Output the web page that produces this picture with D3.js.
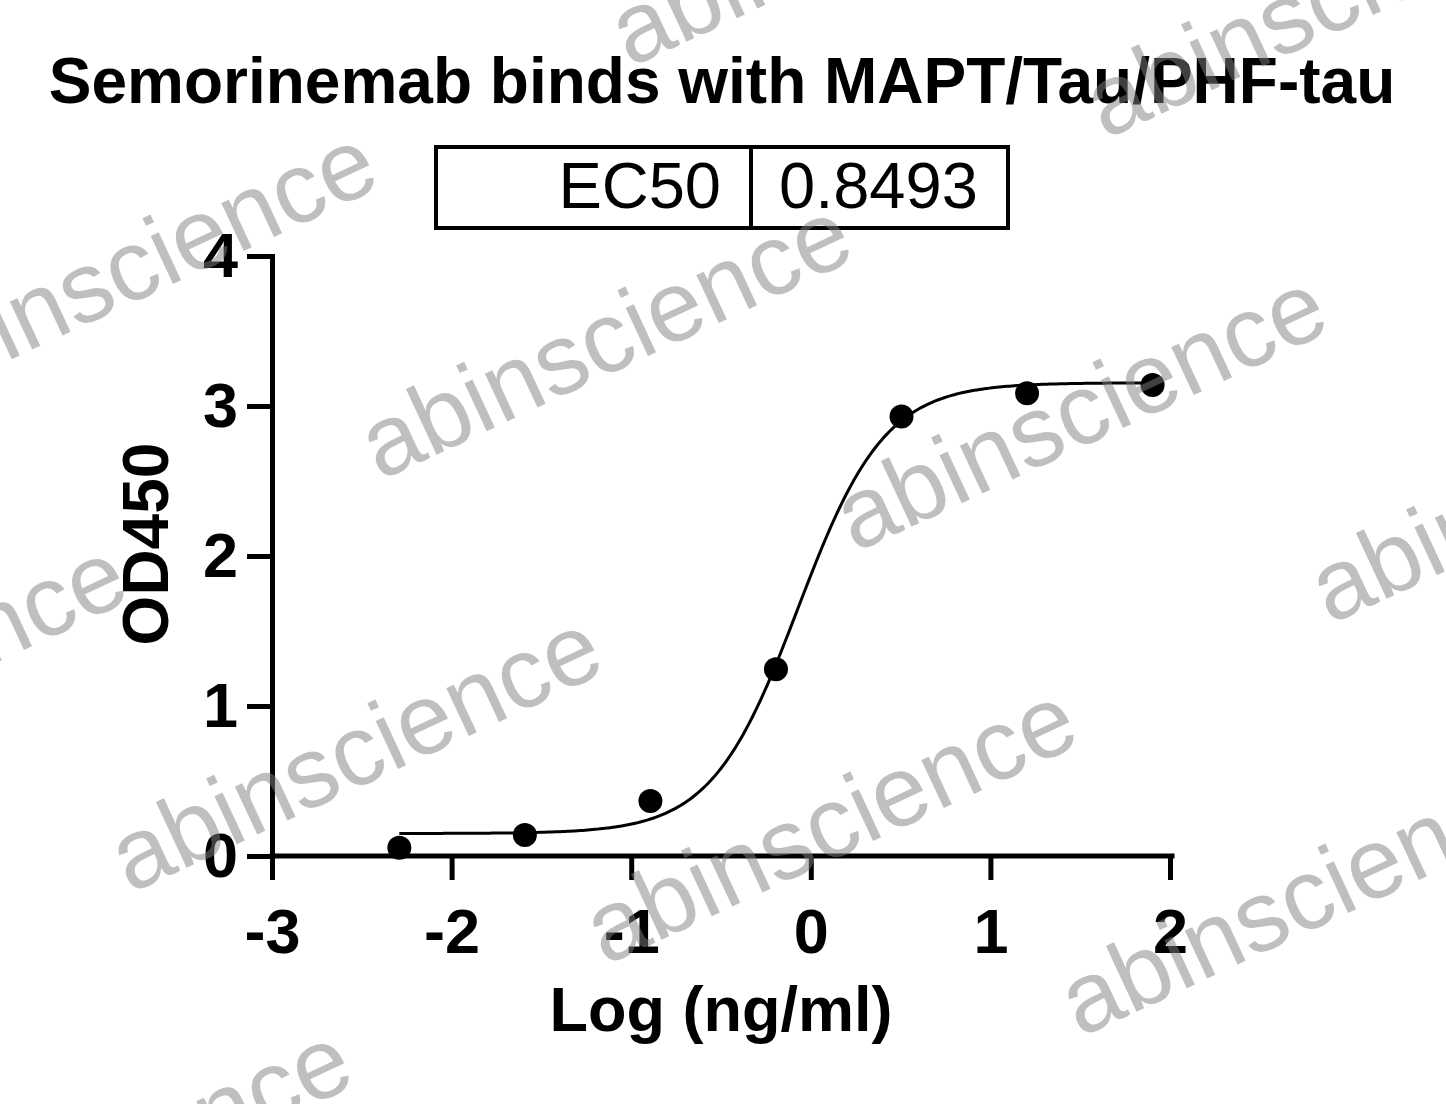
<!DOCTYPE html>
<html>
<head>
<meta charset="utf-8">
<script src="https://cdn.jsdelivr.net/npm/d3@7"></script>
<style>
  html, body { margin: 0; padding: 0; background: #ffffff; }
  svg { display: block; }
  text { font-family: "Liberation Sans", Arial, sans-serif; }
</style>
</head>
<body>
<svg id="chart" width="1446" height="1104"></svg>
<script>
// ---- data ----
const logConc = [-2.291, -1.592, -0.893, -0.194, 0.505, 1.204, 1.903];
const od450   = [0.055, 0.14, 0.367, 1.245, 2.93, 3.085, 3.14];
const xTicks = [-3, -2, -1, 0, 1, 2];
const yTicks = [0, 1, 2, 3, 4];
const xTickLabels = ["-3", "-2", "-1", "0", "1", "2"];
const yTickLabels = ["0", "1", "2", "3", "4"];
const titleText = "Semorinemab binds with MAPT/Tau/PHF-tau";
const xLabel = "Log (ng/ml)";
const yLabel = "OD450";
const tableLabels = ["EC50"];
const tableValues = ["0.8493"];
// 4PL fit parameters (as displayed by the fit)
const fitBottom = 0.15, fitTop = 3.155, fitEC50 = 0.8493, fitHill = 1.8;

const svg = d3.select("#chart");
svg.append("rect").attr("width", 1446).attr("height", 1104).attr("fill", "#fff");

const x = d3.scaleLinear().domain([-3, 2]).range([272, 1170]);
const y = d3.scaleLinear().domain([0, 4]).range([856, 256]);

// Title
svg.append("text")
  .attr("x", 722).attr("y", 103)
  .attr("text-anchor", "middle")
  .attr("font-size", 64).attr("font-weight", "bold")
  .text(titleText);

// EC50 table
const tbl = svg.append("g");
tbl.append("rect").attr("x", 436).attr("y", 147).attr("width", 572).attr("height", 81)
  .attr("fill", "none").attr("stroke", "#000").attr("stroke-width", 4);
tbl.append("line").attr("x1", 751).attr("x2", 751).attr("y1", 147).attr("y2", 228)
  .attr("stroke", "#000").attr("stroke-width", 4);
tbl.selectAll("text.lab").data(tableLabels).join("text").attr("class", "lab")
  .attr("x", 721).attr("y", 208).attr("text-anchor", "end")
  .attr("font-size", 65).text(d => d);
tbl.selectAll("text.val").data(tableValues).join("text").attr("class", "val")
  .attr("x", 779).attr("y", 208).attr("text-anchor", "start")
  .attr("font-size", 65).text(d => d);

// Axes
const xAxis = d3.axisBottom(x).tickValues(xTicks).tickSize(24).tickSizeOuter(0).tickPadding(28)
  .tickFormat((d, i) => xTickLabels[i]);
const yAxis = d3.axisLeft(y).tickValues(yTicks).tickSize(25).tickSizeOuter(0).tickPadding(9)
  .tickFormat((d, i) => yTickLabels[i]);

const gx = svg.append("g").attr("transform", "translate(0,856)").call(xAxis);
const gy = svg.append("g").attr("transform", "translate(272,0)").call(yAxis);
[gx, gy].forEach(g => {
  g.select(".domain").attr("stroke", "#000").attr("stroke-width", 5).attr("stroke-linecap", "square");
  g.selectAll(".tick line").attr("stroke", "#000").attr("stroke-width", 5);
  g.selectAll(".tick text").attr("fill", "#000")
    .attr("font-size", 63).attr("font-weight", "bold")
    .attr("font-family", "'Liberation Sans', Arial, sans-serif");
});
gx.select(".domain").attr("d", `M${x(-3)},0H${x(2) + 2}`);

// Axis titles
svg.append("text").attr("x", 721).attr("y", 1031).attr("text-anchor", "middle")
  .attr("font-size", 63).attr("font-weight", "bold").text(xLabel);
svg.append("text").attr("transform", "translate(168,544) rotate(-90)")
  .attr("text-anchor", "middle")
  .attr("font-size", 64).attr("font-weight", "bold").text(yLabel);

// Fitted 4PL curve
const logEC50 = Math.log10(fitEC50);
const fourPL = v => fitBottom + (fitTop - fitBottom) / (1 + Math.pow(10, (logEC50 - v) * fitHill));
const xs = d3.range(0, 301).map(i => logConc[0] + (logConc[logConc.length - 1] - logConc[0]) * i / 300);
svg.append("path")
  .datum(xs)
  .attr("fill", "none").attr("stroke", "#000").attr("stroke-width", 3)
  .attr("d", d3.line().x(d => x(d)).y(d => y(fourPL(d))));

// Data points
svg.append("g").selectAll("circle")
  .data(logConc.map((c, i) => ({ c, v: od450[i] })))
  .join("circle")
  .attr("cx", d => x(d.c)).attr("cy", d => y(d.v)).attr("r", 12)
  .attr("fill", "#000");

// Watermark
const wm = svg.append("g").attr("fill", "#808080").attr("fill-opacity", 0.5);
const origin = [380, 481], va = [475, 72], vb = [-250, 413];
for (let i = -4; i <= 4; i++) {
  for (let j = -3; j <= 4; j++) {
    const sx = origin[0] + i * va[0] + j * vb[0];
    const sy = origin[1] + i * va[1] + j * vb[1];
    if (sx + 480 < 0 || sx > 1446 || sy - 260 > 1104 || sy + 10 < 0) continue;
    wm.append("text")
      .attr("transform", `translate(${sx},${sy}) rotate(-25)`)
      .attr("font-size", 100)
      .text("abinscience");
  }
}
</script>
</body>
</html>
